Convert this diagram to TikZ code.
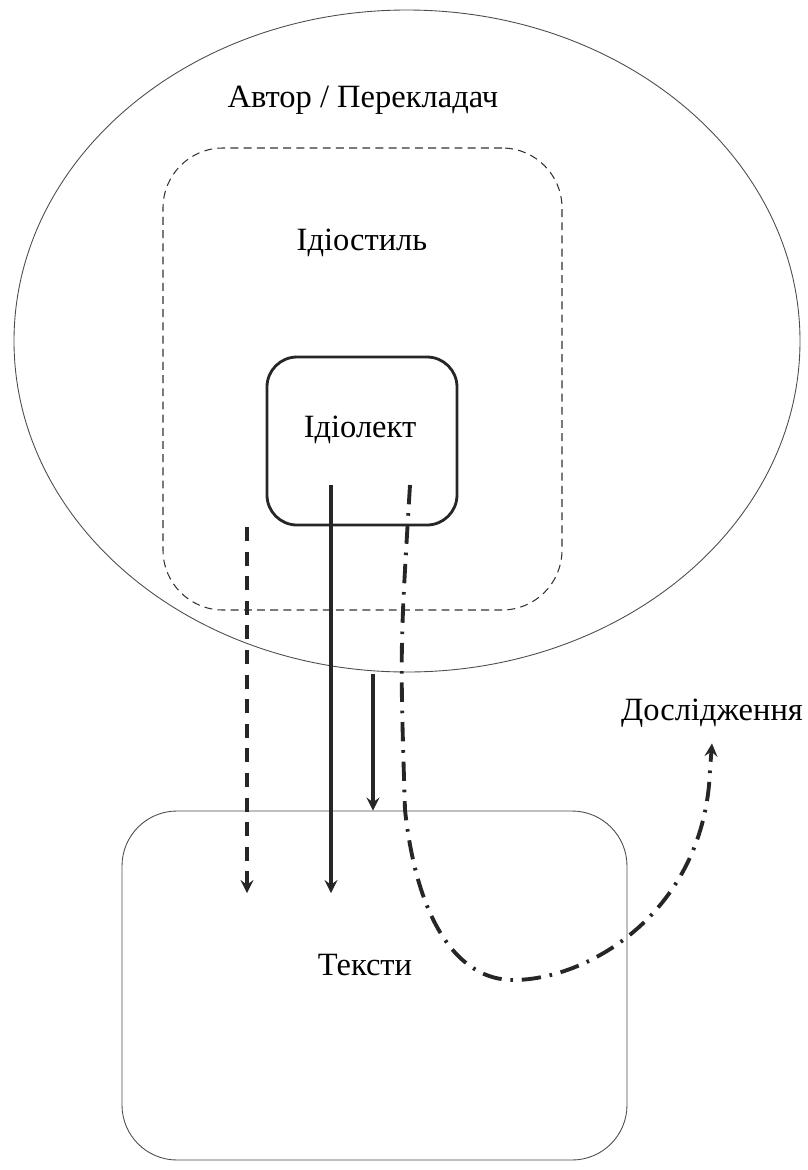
\documentclass[tikz,border=0pt]{standalone}
\usepackage{fontspec}
\setmainfont{Liberation Serif}
\usetikzlibrary{shapes.geometric, arrows}
\tikzstyle{every node}=[font=\fontsize{18.5}{21}\selectfont]
\tikzstyle{person} = [ellipse, draw=black!70, line width=0.5pt, minimum width=15.72cm, minimum height=13.24cm]
\tikzstyle{stylebox} = [rectangle, rounded corners=1.2cm, draw=black!80, line width=0.6pt, dash pattern=on 4.5pt off 3pt, minimum width=7.98cm, minimum height=9.24cm]
\tikzstyle{lectbox} = [rectangle, rounded corners=0.6cm, draw=black!85, line width=1.6pt, minimum width=3.8cm, minimum height=3.36cm]
\tikzstyle{textbox} = [rectangle, rounded corners=1.1cm, draw=black!70, line width=0.5pt, minimum width=10.1cm, minimum height=6.98cm]
\tikzstyle{flow} = [black!85, line width=2.2pt, -stealth]
\tikzstyle{dashflow} = [flow, dash pattern=on 8pt off 6pt]
\tikzstyle{dotflow} = [flow, dash pattern=on 11pt off 5pt on 1.5pt off 5pt]

\begin{document}
\begin{tikzpicture}
            \useasboundingbox (0,0) rectangle (16.16,-23.4);
            \node (author) [person] at (8.14,-6.82) {};
            \node (idiostyle) [stylebox] at (7.25,-7.58) {};
            \node (idiolect) [lectbox] at (7.24,-8.82) {};
            \node (texts) [textbox] at (7.49,-19.71) {};
            \node (authorlbl) at (7.26,-2.0) {Автор / Перекладач};
            \node (stylelbl) at (7.24,-4.86) {Ідіостиль};
            \node (lectlbl) at (7.2,-8.6) {Ідіолект};
            \node (textslbl) at (7.3,-19.3) {Тексти};
            \node (research) at (14.24,-14.26) {Дослідження};
            \coordinate (dstart) at (4.94,-10.54);
            \coordinate (dend) at (4.94,-17.86);
            \coordinate (sstart) at (6.62,-9.7);
            \coordinate (send) at (6.62,-17.86);
            \coordinate (tstart) at (7.46,-13.48);
            \coordinate (cstart) at (8.2,-9.7);
            \coordinate (cbottom) at (10.26,-19.6);
            \draw [dashflow] (dstart) -- (dend);
            \draw [flow] (sstart) -- (send);
            \draw [flow] (tstart) -- (tstart |- texts.north);
            \draw [dotflow] (cstart) .. controls (8.0,-13) .. (8.1,-16.2)
                .. controls (8.35,-18.5) and (9.2,-19.6) .. (cbottom)
                .. controls (11.8,-19.6) and (14.1,-18.2) .. (14.2,-15.4)
                -- ([yshift=-0.2cm]research.south);
          \end{tikzpicture}
\end{document}
